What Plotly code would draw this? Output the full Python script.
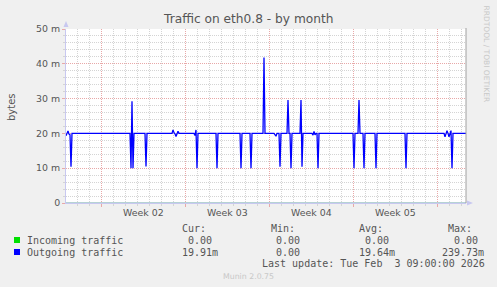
import plotly.graph_objects as go

# ---------------- data ----------------
title_text = "Traffic on eth0.8 - by month"

out_times = [
    "2026-01-02 02:00", "2026-01-02 06:00", "2026-01-02 08:00", "2026-01-02 10:00",
    "2026-01-02 12:00", "2026-01-02 14:00",
    "2026-01-07 10:00", "2026-01-07 12:00", "2026-01-07 14:00", "2026-01-07 16:00", "2026-01-07 18:00",
    "2026-01-08 16:00", "2026-01-08 18:00", "2026-01-08 20:00",
    "2026-01-10 22:00", "2026-01-11 00:00", "2026-01-11 02:00", "2026-01-11 04:00",
    "2026-01-11 06:00", "2026-01-11 08:00", "2026-01-11 10:00", "2026-01-11 12:00",
    "2026-01-12 18:00", "2026-01-12 20:00", "2026-01-12 22:00", "2026-01-13 00:00", "2026-01-13 02:00",
    "2026-01-14 14:00", "2026-01-14 16:00", "2026-01-14 18:00",
    "2026-01-16 14:00", "2026-01-16 16:00", "2026-01-16 18:00",
    "2026-01-17 10:00", "2026-01-17 12:00", "2026-01-17 14:00",
    "2026-01-18 12:00", "2026-01-18 14:00", "2026-01-18 16:00",
    "2026-01-19 10:00", "2026-01-19 12:00", "2026-01-19 14:00", "2026-01-19 16:00",
    "2026-01-19 20:00", "2026-01-19 22:00", "2026-01-20 00:00",
    "2026-01-20 12:00", "2026-01-20 14:00", "2026-01-20 16:00",
    "2026-01-20 18:00", "2026-01-20 20:00", "2026-01-20 22:00",
    "2026-01-21 14:00", "2026-01-21 16:00", "2026-01-21 18:00", "2026-01-21 20:00",
    "2026-01-22 14:00", "2026-01-22 16:00", "2026-01-22 18:00", "2026-01-22 20:00", "2026-01-22 22:00",
    "2026-01-23 00:00", "2026-01-23 02:00", "2026-01-23 04:00",
    "2026-01-26 00:00", "2026-01-26 02:00", "2026-01-26 04:00",
    "2026-01-26 10:00", "2026-01-26 12:00", "2026-01-26 14:00",
    "2026-01-26 20:00", "2026-01-26 22:00", "2026-01-27 00:00",
    "2026-01-27 20:00", "2026-01-27 22:00", "2026-01-28 00:00",
    "2026-01-30 08:00", "2026-01-30 10:00", "2026-01-30 12:00",
    "2026-02-02 14:00", "2026-02-02 16:00", "2026-02-02 18:00", "2026-02-02 20:00",
    "2026-02-02 22:00", "2026-02-03 00:00", "2026-02-03 02:00", "2026-02-03 04:00",
    "2026-02-03 06:00", "2026-02-03 08:00",
    "2026-02-04 10:00",
]
out_values = [
    19.3, 20.7, 19.8, 19.6,
    10.4, 20.0,
    20.0, 10.0, 29.2, 10.0, 20.0,
    20.0, 10.5, 20.0,
    20.0, 21.0, 20.2, 19.9,
    19.1, 20.3, 20.6, 20.0,
    20.0, 19.4, 21.0, 10.0, 20.0,
    20.0, 10.0, 20.0,
    20.0, 10.0, 20.0,
    20.0, 10.0, 20.0,
    20.0, 41.8, 20.0,
    20.0, 19.6, 19.2, 20.0,
    20.0, 10.4, 20.0,
    20.0, 29.6, 20.0,
    20.0, 10.0, 20.0,
    20.0, 29.6, 10.4, 20.0,
    20.0, 19.5, 20.6, 19.6, 20.0,
    20.0, 10.0, 20.0,
    20.0, 10.0, 20.0,
    20.0, 29.6, 20.0,
    20.0, 10.0, 20.0,
    20.0, 10.0, 20.0,
    20.0, 10.0, 20.0,
    20.0, 19.0, 19.9, 20.8,
    20.0, 19.0, 19.9, 20.8,
    10.0, 20.0,
    20.0,
]
in_times = ["2026-01-02 02:00", "2026-02-04 10:00"]
in_values = [0.0, 0.0]

x_range = ["2026-01-02 02:00", "2026-02-04 10:00"]
week_centers = ["2026-01-08 12:00", "2026-01-15 12:00", "2026-01-22 12:00", "2026-01-29 12:00"]
week_labels = ["Week 02", "Week 03", "Week 04", "Week 05"]
y_ticks = [0, 10, 20, 30, 40, 50]
y_ticktext = ["0", "10 m", "20 m", "30 m", "40 m", "50 m"]

series_names = ["Incoming traffic", "Outgoing traffic"]
series_colors = ["#00e000", "#0000ff"]
stat_headers = ["Cur:", "Min:", "Avg:", "Max:"]
stats_in = ["0.00", "0.00", "0.00", "0.00"]
stats_out = ["19.91m", "0.00", "19.64m", "239.73m"]
last_update = "Last update: Tue Feb  3 09:00:00 2026"
version_text = "Munin 2.0.75"
side_text = "RRDTOOL / TOBI OETIKER"

# ---------------- layout helpers ----------------
W, H = 497, 287
PL, PR, PT, PB = 66, 466, 29, 203


def px(x):
    return (x - PL) / (PR - PL)


def py(y):
    return (PB - y) / (PB - PT)


TXT = "#555555"
MAJ = "#e8a8a8"
MIN = "#d4d4d4"
AX = "#c8c8f0"
WM = "#c8c8c8"

fig = go.Figure()
fig.add_trace(go.Scatter(x=in_times, y=in_values, mode="lines",
                         line=dict(color=series_colors[0], width=1), showlegend=False,
                         hoverinfo="skip"))
fig.add_trace(go.Scatter(x=out_times, y=out_values, mode="lines",
                         line=dict(color=series_colors[1], width=1.3), showlegend=False,
                         hoverinfo="skip"))

fig.update_layout(
    width=W, height=H, autosize=False,
    margin=dict(l=PL, r=W - PR, t=PT, b=H - PB, pad=0),
    paper_bgcolor="#f0f0f0", plot_bgcolor="#ffffff",
    showlegend=False,
    font=dict(family="DejaVu Sans", size=9.4, color=TXT),
)

fig.update_xaxes(
    type="date", range=x_range, tick0="2026-01-05", dtick=7 * 86400000,
    showticklabels=False, showgrid=True, gridcolor=MAJ, griddash="1px,1px", gridwidth=1,
    ticks="outside", ticklen=3, tickcolor=MAJ,
    minor=dict(dtick=86400000, tick0="2026-01-05", showgrid=True, gridcolor=MIN,
               griddash="1px,1px", ticks="outside", ticklen=2, tickcolor=MIN),
    showline=True, linecolor=AX, linewidth=1, zeroline=False, fixedrange=True,
)
fig.update_yaxes(
    range=[0, 50], tickvals=y_ticks, ticktext=y_ticktext,
    showgrid=True, gridcolor=MAJ, griddash="1px,1px", gridwidth=1,
    ticks="outside", ticklen=3, tickcolor=MAJ,
    tickfont=dict(family="DejaVu Sans", size=9.4, color=TXT),
    minor=dict(dtick=2, showgrid=True, gridcolor=MIN, griddash="1px,1px",
               ticks="outside", ticklen=2, tickcolor=MIN),
    showline=True, linecolor=AX, linewidth=1, zeroline=False, fixedrange=True,
)

shapes = []
# x axis line drawn over the zero line of the incoming series (as rrdtool does)
shapes.append(dict(type="line", xref="paper", yref="paper", x0=0, x1=1, y0=0, y1=0,
                   line=dict(color=AX, width=1.5)))
# right border
shapes.append(dict(type="line", xref="paper", yref="paper", x0=1, x1=1, y0=0, y1=py(PT - 1),
                   line=dict(color="#a0a0a0", width=1)))
# arrows
shapes.append(dict(type="path", xref="paper", yref="paper",
                   path=f"M {px(63.5)} {py(27)} L {px(68.5)} {py(27)} L {px(66)} {py(21)} Z",
                   fillcolor=AX, line=dict(width=0)))
shapes.append(dict(type="path", xref="paper", yref="paper",
                   path=f"M {px(467)} {py(200.5)} L {px(467)} {py(205.5)} L {px(473)} {py(203)} Z",
                   fillcolor=AX, line=dict(width=0)))
# legend squares
for i, c in enumerate(series_colors):
    yc = 240 + 12 * i
    shapes.append(dict(type="rect", xref="paper", yref="paper",
                       x0=px(14), x1=px(20), y0=py(yc + 3), y1=py(yc - 3),
                       fillcolor=c, line=dict(width=0)))
fig.update_layout(shapes=shapes)

ann = []
MONO = "DejaVu Sans Mono"


def txt(x, y, s, size=10, family=MONO, color=TXT, xanchor="left", angle=0):
    ann.append(dict(x=px(x), y=py(y), xref="paper", yref="paper", text=s, showarrow=False,
                    xanchor=xanchor, yanchor="middle", textangle=angle, borderpad=0,
                    font=dict(family=family, size=size, color=color)))


# title
txt(248, 19, title_text, size=12.2, family="DejaVu Sans", xanchor="center")
# y label
txt(11, 107, "bytes", size=10, family="DejaVu Sans", xanchor="center", angle=-90)
# side text (rrdtool watermark)
txt(486, 53.5, side_text, size=7.5, family="DejaVu Sans", color=WM, xanchor="center", angle=90)
# week labels
for c, lab in zip(week_centers, week_labels):
    ann.append(dict(x=c, y=py(212), xref="x", yref="paper", text=lab, showarrow=False,
                    xanchor="center", yanchor="middle",
                    font=dict(family="DejaVu Sans", size=9.4, color=TXT)))
# legend table
head_x = [181, 270, 358, 447]
for hx, h in zip(head_x, stat_headers):
    txt(hx, 228, h)
for i, name in enumerate(series_names):
    txt(26, 240 + 12 * i, name)
right_edges = [217, 305, 394, 483]
for row, vals in enumerate([stats_in, stats_out]):
    for re_, v in zip(right_edges, vals):
        n = len(v) if v.endswith("m") else len(v) + 1
        txt(re_ - n * 6.02, 240 + 12 * row, v)
txt(261, 263, last_update)
txt(248.8, 276, version_text, size=7.8, family="DejaVu Sans", color=WM, xanchor="center")

fig.update_layout(annotations=ann)

fig.write_html("out.html", config=dict(displayModeBar=False, staticPlot=True))
